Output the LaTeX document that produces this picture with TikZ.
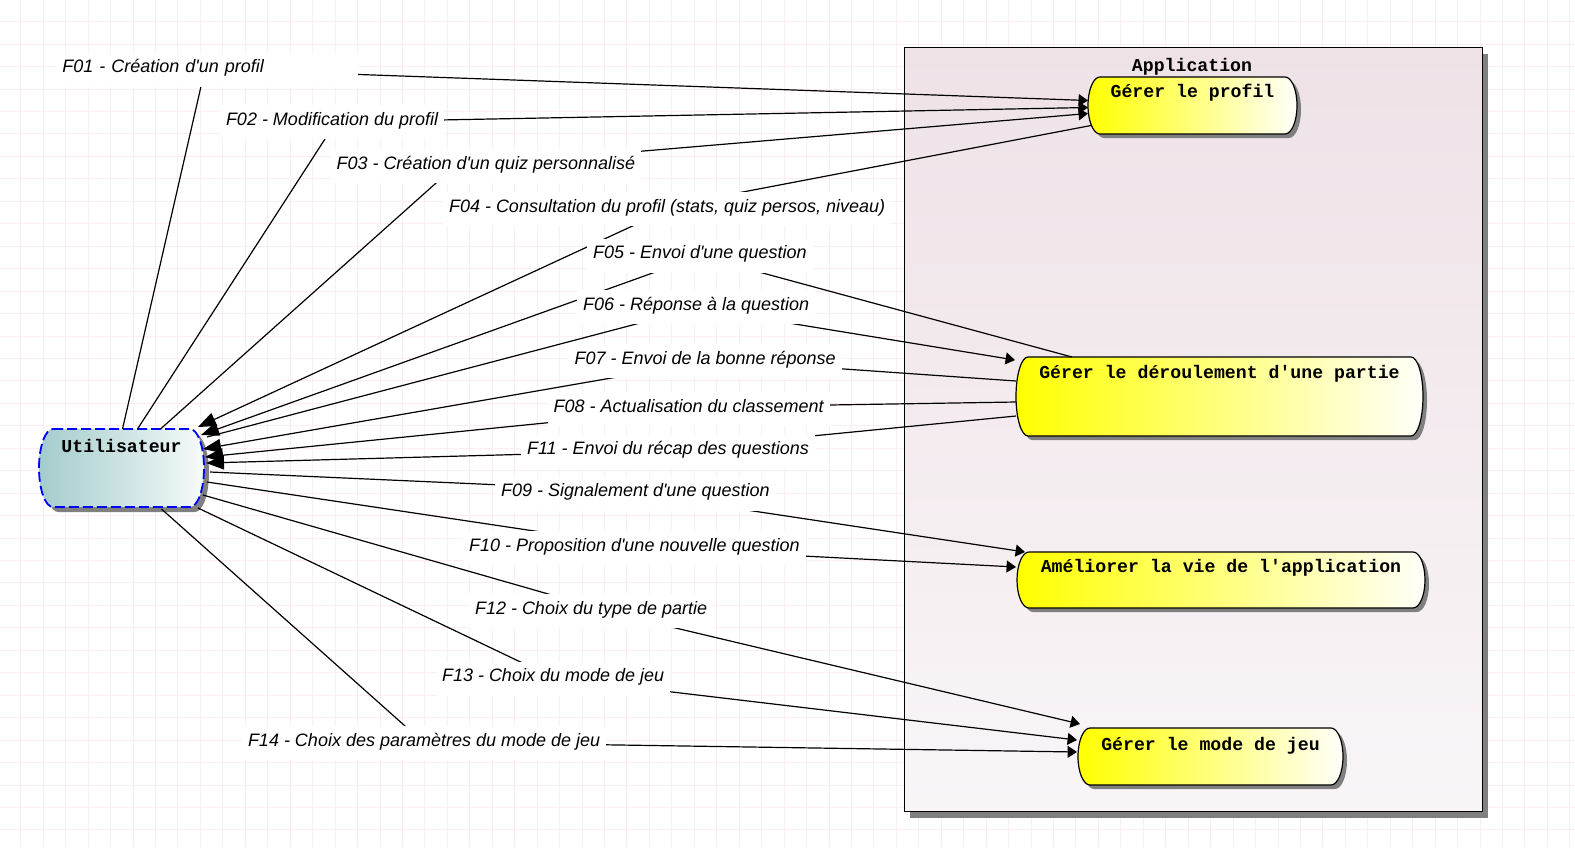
\documentclass[tikz,border=0pt]{standalone}
\usepackage{fontspec}
\usetikzlibrary{arrows.meta}
\newfontfamily\flowfont{Liberation Sans}
\newfontfamily\capfont{Liberation Mono}
\newdimen\px \px=0.5pt
\newcommand\apos{\textquotesingle}
\definecolor{gridpink}{RGB}{253,236,241}
\definecolor{apptop}{RGB}{238,226,231}
\definecolor{appbot}{RGB}{249,245,247}
\definecolor{shadowgray}{RGB}{128,128,128}
\definecolor{userteal}{RGB}{164,204,204}
\definecolor{userwhite}{RGB}{246,250,250}
\definecolor{capyellow}{RGB}{255,255,0}
\definecolor{capwhite}{RGB}{255,255,250}

% capsule outline: [options]{cx}{cy}{width}{height}{end radius}
\newcommand\capsulepath[6][]{%
  \path[#1] ({#2-#4/2+#6},{#3+#5/2}) -- ({#2+#4/2-#6},{#3+#5/2})
    arc[start angle=90,end angle=-90,x radius={#6*0.5pt},y radius={#5*0.25pt}]
    -- ({#2-#4/2+#6},{#3-#5/2})
    arc[start angle=270,end angle=90,x radius={#6*0.5pt},y radius={#5*0.25pt}] -- cycle;}

\tikzset{
  flow/.style={line width=0.6pt, black},
  toapp/.style={-{Triangle[length=4.7pt,width=6pt]}},
  touser/.style={-{Triangle[length=9pt,width=7pt]}},
  flowlabel/.style={font=\flowfont\itshape\fontsize{9}{10}\selectfont, fill=white,
    inner xsep=6\px, inner ysep=0pt, outer sep=0pt, text height=20\px, text depth=14\px,
    anchor=base west},
  captext/.style={font=\capfont\bfseries\fontsize{9.1}{10}\selectfont, inner sep=0pt,
    outer sep=0pt, align=center},
  capfill/.style={left color=capyellow, right color=capwhite, draw=black, line width=0.6pt},
  capshadow/.style={fill=shadowgray, shift={(4,-4)}},
}

\begin{document}
\begin{tikzpicture}[x=0.5pt,y=0.5pt]
  % canvas and grid
  \fill[white] (0,0) rectangle (1575,-847);
  \useasboundingbox (0,0) rectangle (1575,-847);
  \foreach \k in {0,...,69} {
    \draw[gridpink, line width=0.5pt] ({20.8+22.45*\k},0) -- ({20.8+22.45*\k},-847);
  }
  \foreach \k in {0,...,37} {
    \draw[gridpink, line width=0.5pt] (0,{-21.7-22.45*\k}) -- (1575,{-21.7-22.45*\k});
  }

  % system boundary
  \fill[shadowgray] (910,-53.5) rectangle (1488,-817.6);
  \node (app) [draw=black, line width=0.5pt, top color=apptop, bottom color=appbot,
    minimum width=578\px, minimum height=764\px, inner sep=0pt, outer sep=0pt]
    at (1193,-429.5) {};
  \node (apptitle) [captext, anchor=base] at (1192,-71) {Application};

  % actor
  \capsulepath[fill=shadowgray, shift={(5,-5)}]{121.5}{-468}{165}{78}{14}
  \capsulepath[left color=userteal, right color=userwhite, draw=blue, dashed,
    dash pattern=on 5pt off 2pt, line width=0.9pt]{121.5}{-468}{165}{78}{14}
  \node (user) [captext, minimum width=165\px, minimum height=78\px,
    text height=23\px, text depth=55\px] at (121.5,-468) {Utilisateur};

  % use cases
  \capsulepath[capshadow]{1192.5}{-105.5}{209}{57}{12}
  \capsulepath[capfill]{1192.5}{-105.5}{209}{57}{12}
  \node (prof) [captext, minimum width=209\px, minimum height=57\px,
    text height=20\px, text depth=37\px] at (1192.5,-105.5) {Gérer le profil};

  \capsulepath[capshadow]{1219.5}{-396.5}{407}{79}{12}
  \capsulepath[capfill]{1219.5}{-396.5}{407}{79}{12}
  \node (der) [captext, minimum width=407\px, minimum height=79\px,
    text height=21\px, text depth=58\px] at (1219.5,-396.5)
    {Gérer le déroulement d\apos une partie};

  \capsulepath[capshadow]{1221}{-580}{408}{56}{12}
  \capsulepath[capfill]{1221}{-580}{408}{56}{12}
  \node (ame) [captext, minimum width=408\px, minimum height=56\px,
    text height=20\px, text depth=36\px] at (1221,-580)
    {Améliorer la vie de l\apos application};

  \capsulepath[capshadow]{1210.5}{-756.5}{265}{57}{12}
  \capsulepath[capfill]{1210.5}{-756.5}{265}{57}{12}
  \node (mode) [captext, minimum width=265\px, minimum height=57\px,
    text height=22\px, text depth=35\px] at (1210.5,-756.5) {Gérer le mode de jeu};

  % bend points of the flows (hidden under their labels)
  \coordinate (b01) at (205,-69);
  \coordinate (b02) at (336,-122);
  \coordinate (b03) at (454,-167);
  \coordinate (b04) at (680,-204);
  \coordinate (b05) at (700,-256);
  \coordinate (b06) at (697,-308);
  \coordinate (b07) at (715,-360);
  \coordinate (b08) at (705,-407);
  \coordinate (b11) at (664,-450.5);
  \coordinate (b09) at (614,-490);
  \coordinate (b10) at (648,-548);
  \coordinate (b12) at (625,-616);
  \coordinate (b13) at (554,-678);
  \coordinate (b14) at (423,-742);

  % flows
  \draw[flow,toapp] ([shift={(1,0)}]user.north) -- (b01) -- ([shift={(0,5)}]prof.west);
  \draw[flow,toapp] ([shift={(16,0)}]user.north) -- (b02) -- ([shift={(0,-2)}]prof.west);
  \draw[flow,toapp] ([shift={(39,0)}]user.north) -- (b03) -- ([shift={(0,-8)}]prof.west);
  \draw[flow,touser] ([shift={(3,-20)}]prof.west) -- (b04) -- ([shift={(-6,41)}]user.east);
  \draw[flow,touser] ([shift={(56,0)}]der.north west) -- (b05) -- ([shift={(-3,33)}]user.east);
  \draw[flow,toapp] ([shift={(3,31)}]user.east) -- (b06) -- ([shift={(-1,36.5)}]der.west);
  \draw[flow,touser] ([shift={(0,15.5)}]der.west) -- (b07) -- ([shift={(-1,19)}]user.east);
  \draw[flow,touser] ([shift={(0,-5.5)}]der.west) -- (b08) -- ([shift={(1,11)}]user.east);
  \draw[flow,touser] ([shift={(0,-19.5)}]der.west) -- (b11) -- ([shift={(2,5)}]user.east);
  \draw[flow,toapp] ([shift={(6,-4)}]user.east) -- (b09) -- ([shift={(8,28)}]ame.west);
  \draw[flow,toapp] ([shift={(3,-14)}]user.east) -- (b10) -- ([shift={(-1,13)}]ame.west);
  \draw[flow,toapp] ([shift={(-1,-27)}]user.east) -- (b12) -- ([shift={(2,32.5)}]mode.west);
  \draw[flow,toapp] ([shift={(-6,-40)}]user.east) -- (b13) -- ([shift={(-1,16.5)}]mode.west);
  \draw[flow,toapp] ([shift={(40,-2)}]user.south) -- (b14) -- ([shift={(-1,4.5)}]mode.west);

  % flow labels
  \node (l01) [flowlabel, text width=289.7\px, align=left] at (56.3,-72.8)
    {F01 - Création d\apos un profil};
  \node (l02) [flowlabel] at (220,-125) {F02 - Modification du profil};
  \node (l03) [flowlabel] at (330.5,-169.2) {F03 - Création d\apos un quiz personnalisé};
  \node (l04) [flowlabel] at (443,-212.4) {F04 - Consultation du profil (stats, quiz persos, niveau)};
  \node (l05) [flowlabel] at (587,-258.5) {F05 - Envoi d\apos une question};
  \node (l06) [flowlabel] at (577,-310) {F06 - Réponse à la question};
  \node (l07) [flowlabel] at (568.6,-364) {F07 - Envoi de la bonne réponse};
  \node (l08) [flowlabel] at (547.5,-412.3) {F08 - Actualisation du classement};
  \node (l11) [flowlabel] at (521,-454.5) {F11 - Envoi du récap des questions};
  \node (l09) [flowlabel] at (495,-496.5) {F09 - Signalement d\apos une question};
  \node (l10) [flowlabel] at (463,-551) {F10 - Proposition d\apos une nouvelle question};
  \node (l12) [flowlabel] at (469,-614) {F12 - Choix du type de partie};
  \node (l13) [flowlabel] at (436,-681.5) {F13 - Choix du mode de jeu};
  \node (l14) [flowlabel] at (242,-746) {F14 - Choix des paramètres du mode de jeu};
\end{tikzpicture}
\end{document}
